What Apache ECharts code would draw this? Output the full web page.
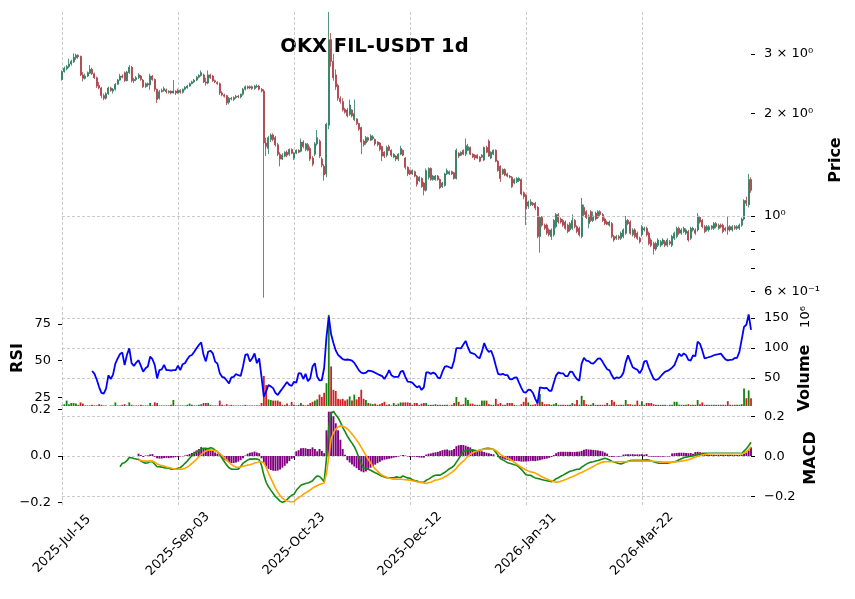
<!DOCTYPE html>
<html>
<head>
<meta charset="utf-8">
<title>OKX FIL-USDT 1d</title>
<script src="https://cdn.jsdelivr.net/npm/echarts@6.0.0/dist/echarts.min.js"></script>
<style>
  html, body { margin: 0; padding: 0; background: #ffffff; }
  #chart { width: 855px; height: 599px; }
</style>
</head>
<body>
<div id="chart"></div>
<script>
// daily candles (USDT)
const firstDay = [2025, 6, 15]; // 2025-Jul-15, one candle per day

const open = [
  2.52,2.66,2.71,2.75,2.80,2.84,2.92,2.97,2.95,2.60,
  2.54,2.58,2.63,2.70,2.62,2.55,2.42,2.38,2.26,2.22,
  2.29,2.38,2.33,2.36,2.44,2.51,2.58,2.64,2.50,2.64,
  2.74,2.50,2.52,2.55,2.58,2.51,2.40,2.45,2.43,2.58,
  2.52,2.36,2.22,2.32,2.34,2.35,2.31,2.33,2.30,2.33,
  2.30,2.34,2.31,2.36,2.38,2.41,2.45,2.48,2.51,2.56,
  2.59,2.60,2.48,2.46,2.60,2.58,2.50,2.47,2.45,2.30,
  2.27,2.26,2.16,2.22,2.20,2.23,2.25,2.24,2.28,2.36,
  2.40,2.38,2.40,2.37,2.40,2.41,2.36,2.33,1.64,1.58,
  1.68,1.73,1.70,1.62,1.52,1.47,1.50,1.54,1.52,1.57,
  1.48,1.53,1.56,1.55,1.65,1.57,1.62,1.58,1.48,1.52,
  1.63,1.66,1.47,1.40,1.33,1.85,3.30,2.85,2.60,2.42,
  2.22,2.17,2.06,2.05,1.99,2.05,1.92,1.93,1.87,1.82,
  1.66,1.64,1.70,1.67,1.69,1.68,1.65,1.64,1.60,1.54,
  1.51,1.60,1.56,1.49,1.50,1.47,1.52,1.56,1.48,1.39,
  1.36,1.33,1.35,1.31,1.27,1.29,1.25,1.19,1.30,1.38,
  1.28,1.28,1.31,1.28,1.22,1.23,1.33,1.33,1.35,1.34,
  1.29,1.53,1.51,1.56,1.52,1.56,1.59,1.52,1.51,1.51,
  1.49,1.49,1.46,1.59,1.66,1.48,1.52,1.56,1.45,1.40,
  1.33,1.37,1.33,1.31,1.30,1.25,1.26,1.27,1.28,1.17,
  1.15,1.07,1.08,1.09,1.09,1.06,0.87,0.99,0.94,0.94,
  0.91,0.87,0.88,0.93,1.01,0.98,0.97,0.96,0.94,0.91,
  0.92,0.97,0.93,0.92,0.87,1.06,1.03,0.95,1.03,0.97,
  1.02,0.99,1.03,1.01,0.98,0.96,0.94,0.95,0.87,0.86,
  0.87,0.86,0.87,0.89,0.97,0.96,0.88,0.91,0.89,0.86,
  0.88,0.91,0.92,0.89,0.85,0.83,0.80,0.82,0.82,0.83,
  0.84,0.82,0.84,0.82,0.86,0.87,0.92,0.89,0.90,0.89,
  0.90,0.86,0.91,0.91,0.91,0.99,0.97,0.93,0.91,0.91,
  0.92,0.92,0.95,0.92,0.94,0.94,0.92,0.93,0.91,0.91,
  0.93,0.92,0.92,0.94,0.98,1.11,1.08,1.28
];
const close = [
  2.66,2.72,2.75,2.80,2.85,2.93,2.97,2.94,2.60,2.54,
  2.58,2.64,2.70,2.62,2.55,2.41,2.38,2.26,2.22,2.29,
  2.38,2.34,2.36,2.44,2.51,2.58,2.56,2.50,2.65,2.74,
  2.50,2.52,2.55,2.60,2.52,2.40,2.45,2.43,2.58,2.52,
  2.36,2.20,2.32,2.34,2.37,2.32,2.33,2.30,2.33,2.30,
  2.34,2.31,2.36,2.39,2.41,2.45,2.48,2.51,2.56,2.59,
  2.64,2.48,2.46,2.60,2.55,2.50,2.48,2.45,2.30,2.27,
  2.25,2.15,2.22,2.21,2.23,2.25,2.24,2.28,2.36,2.40,
  2.38,2.40,2.37,2.41,2.41,2.36,2.33,1.64,1.60,1.70,
  1.73,1.68,1.62,1.52,1.47,1.51,1.54,1.51,1.57,1.53,
  1.53,1.56,1.54,1.65,1.60,1.63,1.56,1.47,1.42,1.63,
  1.70,1.50,1.41,1.32,1.86,3.30,2.85,2.55,2.40,2.22,
  2.17,2.05,2.02,1.97,2.12,1.97,2.00,1.87,1.80,1.65,
  1.62,1.70,1.67,1.72,1.71,1.63,1.62,1.57,1.50,1.50,
  1.59,1.56,1.51,1.52,1.47,1.52,1.58,1.51,1.39,1.33,
  1.33,1.36,1.31,1.24,1.30,1.22,1.19,1.36,1.38,1.28,
  1.31,1.31,1.28,1.21,1.25,1.33,1.36,1.35,1.33,1.29,
  1.56,1.50,1.54,1.52,1.61,1.60,1.52,1.49,1.48,1.48,
  1.45,1.51,1.59,1.54,1.50,1.54,1.56,1.45,1.36,1.29,
  1.37,1.32,1.31,1.30,1.22,1.28,1.29,1.29,1.16,1.14,
  1.05,1.10,1.10,1.08,1.055,0.87,0.99,0.94,0.92,0.89,
  0.88,0.91,0.97,1.01,0.96,0.96,0.94,0.92,0.90,0.95,
  0.97,0.93,0.90,0.88,1.08,1.01,0.99,1.00,0.97,1.00,
  0.98,1.03,1.01,0.97,0.95,0.945,0.96,0.87,0.85,0.87,
  0.86,0.89,0.91,0.97,0.95,0.89,0.91,0.87,0.86,0.84,
  0.93,0.92,0.88,0.83,0.82,0.80,0.83,0.85,0.84,0.85,
  0.82,0.85,0.83,0.87,0.89,0.92,0.89,0.91,0.92,0.91,
  0.85,0.92,0.92,0.89,1.00,0.96,0.93,0.90,0.93,0.93,
  0.935,0.95,0.93,0.94,0.93,0.90,0.91,0.91,0.93,0.93,
  0.92,0.93,0.94,0.98,1.11,1.09,1.28,1.19
];
const low = [
  2.50,2.64,2.68,2.72,2.77,2.82,2.88,2.90,2.58,2.49,
  2.52,2.56,2.62,2.60,2.53,2.38,2.36,2.22,2.19,2.20,
  2.27,2.32,2.29,2.34,2.43,2.50,2.54,2.48,2.49,2.62,
  2.47,2.46,2.49,2.53,2.50,2.38,2.38,2.40,2.35,2.50,
  2.32,2.15,2.20,2.31,2.32,2.29,2.29,2.28,2.29,2.27,
  2.29,2.29,2.29,2.34,2.37,2.40,2.44,2.46,2.49,2.54,
  2.57,2.46,2.42,2.44,2.53,2.48,2.46,2.43,2.27,2.25,
  2.23,2.12,2.13,2.19,2.18,2.21,2.22,2.22,2.26,2.34,
  2.36,2.36,2.35,2.35,2.38,2.34,2.31,0.575,1.50,1.52,
  1.65,1.66,1.60,1.50,1.40,1.46,1.49,1.49,1.50,1.52,
  1.46,1.52,1.53,1.54,1.58,1.55,1.55,1.45,1.40,1.50,
  1.61,1.48,1.39,1.27,1.30,1.80,2.75,2.50,2.35,2.18,
  2.14,2.03,2.00,1.95,1.97,1.95,1.90,1.85,1.78,1.52,
  1.60,1.62,1.65,1.66,1.67,1.61,1.60,1.55,1.45,1.48,
  1.49,1.55,1.49,1.48,1.45,1.45,1.51,1.50,1.37,1.31,
  1.32,1.32,1.30,1.22,1.26,1.21,1.15,1.18,1.28,1.27,
  1.27,1.27,1.27,1.20,1.21,1.22,1.32,1.32,1.32,1.28,
  1.28,1.48,1.50,1.51,1.50,1.55,1.51,1.48,1.46,1.47,
  1.44,1.48,1.45,1.53,1.49,1.47,1.51,1.44,1.35,1.26,
  1.32,1.31,1.30,1.29,1.21,1.24,1.25,1.26,1.15,1.12,
  0.94,1.05,1.07,1.07,1.04,0.86,0.78,0.93,0.91,0.88,
  0.87,0.85,0.87,0.92,0.95,0.95,0.93,0.91,0.89,0.90,
  0.91,0.92,0.89,0.87,0.86,1.00,0.98,0.92,0.96,0.96,
  0.97,0.98,1.00,0.96,0.94,0.94,0.93,0.86,0.84,0.85,
  0.85,0.85,0.86,0.88,0.94,0.88,0.87,0.86,0.85,0.83,
  0.87,0.90,0.87,0.82,0.81,0.77,0.79,0.81,0.81,0.82,
  0.81,0.81,0.82,0.81,0.85,0.86,0.88,0.88,0.89,0.88,
  0.84,0.85,0.90,0.88,0.90,0.95,0.92,0.89,0.90,0.90,
  0.91,0.91,0.92,0.91,0.92,0.89,0.90,0.88,0.90,0.90,
  0.91,0.91,0.91,0.93,0.97,1.07,1.06,1.17
];
const high = [
  2.68,2.75,2.78,2.90,2.88,3.01,3.00,2.99,2.96,2.65,
  2.62,2.66,2.78,2.73,2.64,2.57,2.48,2.40,2.29,2.31,
  2.40,2.40,2.38,2.46,2.53,2.62,2.61,2.66,2.67,2.78,
  2.76,2.55,2.58,2.63,2.60,2.53,2.47,2.47,2.62,2.60,
  2.54,2.37,2.35,2.37,2.40,2.37,2.34,2.34,2.51,2.34,
  2.37,2.36,2.37,2.41,2.43,2.47,2.50,2.53,2.58,2.61,
  2.68,2.62,2.55,2.68,2.62,2.60,2.52,2.49,2.47,2.33,
  2.29,2.27,2.24,2.24,2.25,2.27,2.27,2.29,2.38,2.42,
  2.42,2.42,2.42,2.43,2.44,2.43,2.38,2.36,1.70,1.72,
  1.75,1.75,1.72,1.64,1.54,1.53,1.55,1.56,1.58,1.58,
  1.54,1.57,1.57,1.69,1.67,1.64,1.64,1.60,1.50,1.65,
  1.79,1.68,1.49,1.42,1.88,3.98,3.45,3.00,2.70,2.45,
  2.25,2.22,2.08,2.08,2.20,2.06,2.20,1.94,1.88,1.83,
  1.68,1.72,1.71,1.74,1.73,1.69,1.66,1.65,1.61,1.55,
  1.61,1.62,1.57,1.53,1.51,1.53,1.61,1.57,1.49,1.40,
  1.37,1.37,1.36,1.32,1.31,1.30,1.26,1.38,1.39,1.39,
  1.32,1.32,1.32,1.29,1.26,1.34,1.38,1.36,1.36,1.35,
  1.58,1.54,1.55,1.57,1.69,1.63,1.60,1.53,1.52,1.52,
  1.50,1.52,1.60,1.61,1.68,1.55,1.57,1.57,1.46,1.41,
  1.38,1.38,1.34,1.32,1.31,1.29,1.30,1.30,1.29,1.18,
  1.16,1.11,1.12,1.10,1.10,1.07,1.00,1.00,0.95,0.95,
  0.92,0.92,0.98,1.02,1.02,0.99,0.98,0.97,0.95,0.96,
  1.01,0.98,0.94,0.93,1.13,1.08,1.04,1.01,1.04,1.03,
  1.03,1.04,1.04,1.02,0.99,0.97,0.97,0.96,0.88,0.88,
  0.88,0.90,0.92,1.00,0.98,0.97,0.92,0.92,0.90,0.87,
  0.94,0.93,0.93,0.90,0.86,0.84,0.84,0.86,0.85,0.86,
  0.85,0.86,0.85,0.88,0.90,0.93,0.93,0.92,0.93,0.92,
  0.91,0.93,0.93,0.92,1.02,1.00,0.98,0.94,0.94,0.94,
  0.94,0.96,0.96,0.95,0.95,0.95,0.93,1.00,0.94,0.94,
  0.94,0.94,0.95,0.99,1.12,1.14,1.33,1.30
];
// volume in millions (axis shows 10^6)
const volume = [
  4,6,12,6,8,8,7,5,9,7,
  4,4,4,5,4,4,6,5,4,4,
  3,4,4,9,4,4,5,6,4,9,
  5,4,4,4,5,4,4,4,8,4,
  9,8,4,4,4,4,4,5,13,4,
  4,4,4,4,5,7,5,4,4,5,
  6,8,8,8,5,4,4,4,12,5,
  4,6,4,5,4,4,4,4,4,5,
  4,4,4,4,4,4,8,53,38,14,
  13,12,12,12,10,5,5,7,4,10,
  5,4,5,8,5,4,5,8,10,12,
  14,22,18,25,41,155,69,30,28,15,
  14,15,12,14,19,12,22,14,18,30,
  15,13,8,7,6,7,5,6,8,10,
  5,6,4,8,5,7,9,9,9,9,
  8,5,8,8,5,7,8,8,5,5,
  5,6,5,5,5,5,5,4,5,8,
  18,10,5,6,17,13,7,7,5,5,
  5,12,12,12,6,5,5,15,6,8,
  5,5,8,8,8,5,4,4,6,10,
  17,9,5,5,6,13,23,10,6,6,
  6,5,6,8,5,5,5,5,5,5,
  8,6,13,5,20,13,6,5,5,8,
  5,5,5,5,5,8,5,13,10,5,
  5,5,5,13,6,6,5,5,12,5,
  11,5,8,8,8,6,5,5,5,5,
  5,4,5,5,10,10,5,5,5,5,
  6,5,5,5,13,6,9,5,5,5,
  5,5,5,5,5,5,5,11,5,5,
  5,5,5,6,32,16,29,16
];

// RSI, first value on day 13
const rsiStart = 13;
const rsi = [
  43,41,37,32,28,27.5,31,
  40,37.5,40.5,48,51.5,54.5,55.5,47,54,58.4,
  48.3,46.4,48.7,50.3,46.4,42.5,44.8,46,52.7,51,
  47,37.9,43.6,44.1,47.1,43.6,43.6,43.2,43.6,43.6,
  46.6,43.6,47.6,48.3,51,53.2,53.9,56.1,58.4,60.7,
  62.5,54,49.5,56.1,56.8,55,49.4,48,41.5,39,
  38.4,36.5,34.5,38.6,39,40.9,40.1,39.6,45.9,53.9,
  54.4,49.4,51.6,55,48.3,51.5,39,25.5,29,33.4,
  32.5,31.3,28,26.6,28.9,31,33.2,35.5,33.5,32.8,
  35.6,35,41.5,41.4,37.5,41,36,37.9,46,48.3,
  39,36.5,36.8,45,66,80,68,62,57,54,
  52.5,51,50.5,50.8,50.5,50,48.5,46,43.4,41.8,
  41.4,41.8,43.2,43,42.5,41.8,40.9,40.2,39.5,37.5,
  40.2,43.5,40,39,39,39,42.5,43,39,35.7,
  35.5,35,33.3,31.8,32.7,30,32,42,42,41,
  42,41,38.5,38,42.5,46,46.2,45.5,44.8,50,
  58.6,58.5,58.4,61,63.5,59,55.5,55,54.4,52.5,
  51.6,56,62,58,56,56.8,52.5,46.5,41,40.5,
  41,40.2,40.2,37.5,37.3,38.4,38.6,35,31.5,28.6,
  28.3,30.2,30,28,24,21,31.8,31.5,31.2,31.4,
  29.5,29.5,35,40,42,41.3,41.4,39.5,39.5,42.5,
  42.3,39.6,37.4,36.4,48,52,50,49.7,48.4,48,
  49.6,51.4,51.5,49.4,46.5,44.2,43.4,40,37.5,38.6,
  38.2,39,41.8,49,53.6,49.5,45.5,44.6,43.8,41.4,
  44,49.5,49.8,45,41.3,37.7,36.8,37.5,39.2,41,
  42.5,43,44,45.3,47,51,54.8,53,55,53.8,
  50.5,50,53.6,53,63,61.5,57,51.5,52,52.5,
  53,53.7,54.2,54.4,54.8,52.8,50.9,50.2,50.6,50.7,
  51.8,52,56,64.5,73,74.5,81.5,71
];

// MACD line, first value on day 25
const macdStart = 25;
const macd = [
  -0.05,-0.033,-0.03,-0.02,-0.004,
  -0.005,-0.009,-0.012,-0.013,-0.022,-0.028,-0.033,-0.03,-0.024,-0.025,
  -0.038,-0.05,-0.05,-0.052,-0.055,-0.056,-0.058,-0.062,-0.063,-0.063,
  -0.058,-0.055,-0.045,-0.033,-0.022,-0.008,0.005,0.016,0.025,0.03,
  0.037,0.042,0.042,0.04,0.045,0.042,0.033,0.025,0.012,-0.008,
  -0.025,-0.042,-0.055,-0.062,-0.063,-0.063,-0.062,-0.05,-0.033,-0.025,
  -0.017,-0.012,-0.012,-0.01,-0.012,-0.015,-0.042,-0.092,-0.128,-0.15,
  -0.167,-0.183,-0.2,-0.21,-0.222,-0.228,-0.224,-0.214,-0.202,-0.193,
  -0.188,-0.168,-0.155,-0.143,-0.138,-0.134,-0.131,-0.127,-0.12,-0.106,
  -0.096,-0.099,-0.11,-0.125,-0.01,0.15,0.215,0.227,0.21,0.195,
  0.173,0.147,0.125,0.103,0.085,0.068,0.05,0.025,-0.005,-0.033,
  -0.058,-0.058,-0.063,-0.068,-0.074,-0.08,-0.085,-0.092,-0.098,-0.102,
  -0.105,-0.105,-0.105,-0.105,-0.101,-0.103,-0.104,-0.096,-0.102,-0.106,
  -0.108,-0.115,-0.119,-0.122,-0.127,-0.128,-0.127,-0.118,-0.112,-0.105,
  -0.097,-0.093,-0.092,-0.092,-0.085,-0.078,-0.07,-0.06,-0.054,-0.045,
  -0.027,-0.01,0.008,0.025,0.031,0.033,0.033,0.033,0.03,0.029,
  0.032,0.036,0.039,0.042,0.042,0.04,0.036,0.022,0.006,-0.01,
  -0.016,-0.022,-0.03,-0.033,-0.036,-0.04,-0.043,-0.052,-0.063,-0.077,
  -0.09,-0.092,-0.093,-0.1,-0.106,-0.109,-0.112,-0.115,-0.118,-0.12,
  -0.122,-0.125,-0.12,-0.11,-0.105,-0.098,-0.092,-0.085,-0.079,-0.073,
  -0.07,-0.066,-0.063,-0.063,-0.052,-0.045,-0.037,-0.031,-0.027,-0.025,
  -0.022,-0.019,-0.015,-0.011,-0.008,-0.011,-0.016,-0.023,-0.027,-0.03,
  -0.034,-0.036,-0.032,-0.027,-0.023,-0.019,-0.018,-0.018,-0.018,-0.018,
  -0.018,-0.017,-0.016,-0.017,-0.021,-0.025,-0.029,-0.032,-0.033,-0.033,
  -0.033,-0.032,-0.03,-0.028,-0.025,-0.021,-0.015,-0.01,-0.005,-0.002,
  0,0.002,0.004,0.008,0.012,0.015,0.017,0.017,0.017,0.017,
  0.017,0.017,0.017,0.017,0.017,0.017,0.017,0.017,0.017,0.017,
  0.017,0.017,0.017,0.016,0.028,0.04,0.055,0.072
];

// signal line and histogram, first value on day 33
const signalStart = 33;
const signal = [
  -0.017,-0.019,-0.022,-0.022,-0.022,-0.021,-0.022,
  -0.028,-0.036,-0.041,-0.044,-0.047,-0.051,-0.054,-0.057,-0.061,-0.063,
  -0.063,-0.063,-0.062,-0.058,-0.052,-0.043,-0.034,-0.023,-0.013,-0.001,
  0.011,0.021,0.028,0.032,0.033,0.033,0.03,0.025,0.017,0.005,
  -0.005,-0.017,-0.028,-0.038,-0.047,-0.052,-0.053,-0.052,-0.048,-0.045,
  -0.042,-0.04,-0.036,-0.032,-0.029,-0.025,-0.025,-0.032,-0.054,-0.082,
  -0.107,-0.132,-0.157,-0.177,-0.194,-0.207,-0.216,-0.221,-0.224,-0.225,
  -0.225,-0.213,-0.205,-0.197,-0.188,-0.181,-0.174,-0.166,-0.157,-0.15,
  -0.144,-0.139,-0.135,-0.131,-0.085,0.0,0.088,0.12,0.138,0.149,
  0.154,0.152,0.147,0.14,0.127,0.113,0.099,0.083,0.067,0.047,
  0.027,0.007,-0.013,-0.03,-0.048,-0.061,-0.072,-0.083,-0.093,-0.098,
  -0.103,-0.107,-0.11,-0.112,-0.112,-0.113,-0.113,-0.114,-0.115,-0.116,
  -0.117,-0.12,-0.122,-0.125,-0.127,-0.129,-0.132,-0.134,-0.13,-0.128,
  -0.122,-0.117,-0.115,-0.112,-0.108,-0.1,-0.094,-0.086,-0.078,-0.069,
  -0.058,-0.043,-0.032,-0.022,-0.01,0.003,0.012,0.02,0.025,0.028,
  0.033,0.035,0.037,0.038,0.038,0.038,0.037,0.031,0.022,0.012,
  0.004,-0.002,-0.008,-0.013,-0.02,-0.028,-0.037,-0.045,-0.053,-0.06,
  -0.067,-0.072,-0.076,-0.078,-0.082,-0.088,-0.094,-0.101,-0.106,-0.111,
  -0.116,-0.12,-0.125,-0.127,-0.127,-0.123,-0.119,-0.114,-0.11,-0.104,
  -0.1,-0.095,-0.089,-0.083,-0.079,-0.073,-0.067,-0.061,-0.055,-0.049,
  -0.042,-0.036,-0.031,-0.027,-0.025,-0.025,-0.025,-0.025,-0.025,-0.025,
  -0.025,-0.025,-0.025,-0.025,-0.024,-0.023,-0.022,-0.022,-0.022,-0.022,
  -0.022,-0.022,-0.022,-0.022,-0.022,-0.023,-0.024,-0.025,-0.026,-0.027,
  -0.027,-0.027,-0.027,-0.027,-0.026,-0.025,-0.024,-0.022,-0.02,-0.018,
  -0.015,-0.011,-0.007,-0.003,0.002,0.005,0.008,0.011,0.013,0.014,
  0.015,0.015,0.015,0.015,0.015,0.015,0.015,0.015,0.015,0.015,
  0.015,0.015,0.015,0.014,0.018,0.025,0.035,0.05
];
const hist = [
  0.01,0.004,-0.004,0.002,0.003,0.007,0.008,
  -0.003,-0.01,-0.011,-0.011,-0.009,-0.008,-0.009,-0.008,-0.007,-0.005,
  -0.003,-0.002,-0.001,0.002,0.005,0.009,0.013,0.018,0.024,0.03,
  0.038,0.034,0.03,0.032,0.028,0.022,0.015,0.01,0.002,-0.008,
  -0.016,-0.022,-0.027,-0.03,-0.03,-0.028,-0.024,-0.018,-0.01,0.002,
  0.01,0.014,0.016,0.019,0.015,0.012,-0.01,-0.028,-0.045,-0.055,
  -0.06,-0.063,-0.064,-0.062,-0.058,-0.05,-0.042,-0.032,-0.022,-0.012,
  -0.008,0.02,0.025,0.033,0.034,0.033,0.03,0.03,0.037,0.03,
  0.02,0.03,0.022,0.012,0.11,0.19,0.19,0.17,0.14,0.11,
  0.07,0.03,0.005,-0.018,-0.028,-0.036,-0.045,-0.052,-0.06,-0.066,
  -0.07,-0.066,-0.06,-0.05,-0.043,-0.037,-0.031,-0.025,-0.019,-0.016,
  -0.014,-0.012,-0.01,-0.007,-0.005,-0.002,0.002,0.004,0.002,-0.002,
  -0.004,-0.003,-0.003,-0.004,-0.006,-0.007,-0.007,0.006,0.01,0.011,
  0.014,0.016,0.018,0.021,0.025,0.027,0.028,0.024,0.025,0.03,
  0.042,0.046,0.047,0.047,0.044,0.04,0.037,0.03,0.027,0.025,
  0.021,0.02,0.017,0.014,0.012,0.009,0.007,0.0,-0.005,-0.008,
  -0.012,-0.015,-0.017,-0.02,-0.021,-0.021,-0.021,-0.023,-0.024,-0.024,
  -0.024,-0.023,-0.021,-0.021,-0.022,-0.02,-0.018,-0.015,-0.013,-0.011,
  -0.008,-0.004,0.004,0.012,0.017,0.018,0.018,0.018,0.018,0.018,
  0.017,0.017,0.018,0.019,0.022,0.027,0.029,0.028,0.027,0.026,
  0.025,0.024,0.022,0.02,0.015,0.01,-0.003,-0.004,-0.003,-0.002,
  -0.003,-0.002,0.006,0.007,0.007,0.007,0.008,0.006,0.007,0.007,
  0.008,0.006,0.008,-0.002,-0.003,-0.003,-0.003,-0.003,-0.003,-0.003,
  -0.002,-0.002,-0.002,0.011,0.012,0.013,0.014,0.014,0.014,0.013,
  0.012,0.013,0.01,0.017,0.018,0.016,0.008,0.006,0.005,0.005,
  0.005,0.005,0.004,0.005,0.005,0.005,0.005,0.005,0.005,0.005,
  0.004,0.004,0.004,0.005,0.01,0.015,0.024,0.038
];

// axis ticks
const priceTicks = [0.6, 1, 2, 3];
const priceTickText = ['6 × 10⁻¹', '10⁰', '2 × 10⁰', '3 × 10⁰'];
const priceMinorTicks = [0.6, 0.7, 0.8, 0.9, 1, 2, 3];
const rsiTicks = [25, 50, 75];
const volTicks = [50, 100, 150];
const macdTicks = [-0.2, 0, 0.2];

const UP = '#26795a', DOWN = '#aa3a43';
const VOL_UP = '#128312', VOL_DOWN = '#d41f24';
const GRID_COLOR = '#bdbdbd';
const FONT = 'DejaVu Sans';

const MONTHS = ['Jan','Feb','Mar','Apr','May','Jun','Jul','Aug','Sep','Oct','Nov','Dec'];
const dates = [];
const t0 = Date.UTC(firstDay[0], firstDay[1], firstDay[2]);
for (let i = 0; i < close.length; i++) {
  const d = new Date(t0 + i * 86400000);
  dates.push(d.getUTCFullYear() + '-' + MONTHS[d.getUTCMonth()] + '-' + String(d.getUTCDate()).padStart(2, '0'));
}

const lead = (n, arr) => new Array(n).fill(null).concat(arr);
const candles = open.map((o, i) => [o, close[i], low[i], high[i]]);
const volData = volume.map((v, i) => ({
  value: v,
  itemStyle: { color: close[i] >= open[i] ? VOL_UP : VOL_DOWN }
}));

const fmtPrice = v => {
  let best = 0;
  priceTicks.forEach((t, i) => { if (Math.abs(t - v) < Math.abs(priceTicks[best] - v)) best = i; });
  return priceTickText[best];
};
const fmtMacd = v => (v < -1e-9 ? '−' : '') + Math.abs(v).toFixed(1);

const dashed = { color: GRID_COLOR, type: [3, 2], width: 0.8 };
const tickStyle = { color: '#000', width: 1 };
const labelBase = { fontSize: 13, color: '#000', fontFamily: FONT };

// date labels sit centred under their tick, like matplotlib's rotated ticklabels
const xAxisFor = (gridIndex, bottom) => ({
  type: 'category', gridIndex, data: dates, boundaryGap: false,
  axisLine: { show: false },
  axisTick: { show: bottom, interval: 49, length: 4, lineStyle: tickStyle },
  axisLabel: Object.assign({
    show: bottom, interval: 49, rotate: 45, margin: 39,
    align: 'center', verticalAlign: 'middle'
  }, labelBase),
  splitLine: { show: true, interval: 49, lineStyle: dashed }
});

const chart = echarts.init(document.getElementById('chart'));
chart.setOption({
  animation: false,
  backgroundColor: '#ffffff',
  textStyle: { fontFamily: FONT },
  grid: [
    { left: 62, right: 104, top: 12, height: 289 },
    { left: 62, right: 104, top: 307, height: 99 },
    { left: 62, right: 104, top: 407, height: 98 }
  ],
  xAxis: [xAxisFor(0, false), xAxisFor(1, false), xAxisFor(2, true)],
  yAxis: [
    {
      gridIndex: 0, type: 'log', logBase: 10, position: 'right', min: 0.5623, max: 3.981,
      axisLine: { show: false },
      axisTick: { show: true, customValues: priceMinorTicks, length: 4, lineStyle: tickStyle },
      axisLabel: Object.assign({ customValues: priceTicks, formatter: fmtPrice, margin: 13 }, labelBase),
      splitLine: { show: false }
    },
    {
      gridIndex: 1, type: 'value', position: 'left', min: 19.1, max: 86.6,
      axisLine: { show: false },
      axisTick: { show: true, customValues: rsiTicks, length: 4, lineStyle: tickStyle },
      axisLabel: Object.assign({ customValues: rsiTicks, margin: 11 }, labelBase),
      splitLine: { show: false }
    },
    {
      gridIndex: 1, type: 'value', position: 'right', min: 3, max: 168,
      axisLine: { show: false },
      axisTick: { show: true, customValues: volTicks, length: 4, lineStyle: tickStyle },
      axisLabel: Object.assign({ customValues: volTicks, margin: 13 }, labelBase),
      splitLine: { show: true, lineStyle: dashed }
    },
    {
      gridIndex: 2, type: 'value', position: 'left', min: -0.2099, max: 0.2099,
      axisLine: { show: false },
      axisTick: { show: true, customValues: macdTicks, length: 4, lineStyle: tickStyle },
      axisLabel: Object.assign({ customValues: macdTicks, formatter: fmtMacd, margin: 11 }, labelBase),
      splitLine: { show: false }
    },
    {
      gridIndex: 2, type: 'value', position: 'right', min: -0.2415, max: 0.2485,
      axisLine: { show: false },
      axisTick: { show: true, customValues: macdTicks, length: 4, lineStyle: tickStyle },
      axisLabel: Object.assign({ customValues: macdTicks, formatter: fmtMacd, margin: 13 }, labelBase),
      splitLine: { show: true, lineStyle: dashed }
    }
  ],
  series: [
    {
      name: 'Price', type: 'candlestick', xAxisIndex: 0, yAxisIndex: 0, data: candles,
      barWidth: 1.5,
      itemStyle: { color: UP, color0: DOWN, borderColor: UP, borderColor0: DOWN, borderWidth: 0.8 },
      markLine: {
        silent: true, symbol: 'none', label: { show: false }, lineStyle: dashed,
        data: [{ yAxis: 1 }]
      }
    },
    {
      name: 'Volume', type: 'bar', xAxisIndex: 1, yAxisIndex: 2, data: volData, barWidth: 1.8
    },
    {
      name: 'RSI', type: 'line', xAxisIndex: 1, yAxisIndex: 1, data: lead(rsiStart, rsi),
      showSymbol: false, lineStyle: { color: '#0000ff', width: 1.8 }, itemStyle: { color: '#0000ff' }, z: 4
    },
    {
      name: 'Histogram', type: 'bar', xAxisIndex: 2, yAxisIndex: 3, data: lead(signalStart, hist),
      barWidth: 1.9, itemStyle: { color: '#800080' }
    },
    {
      name: 'MACD', type: 'line', xAxisIndex: 2, yAxisIndex: 4, data: lead(macdStart, macd),
      showSymbol: false, lineStyle: { color: '#138a13', width: 1.6 }, itemStyle: { color: '#138a13' }, z: 4
    },
    {
      name: 'Signal', type: 'line', xAxisIndex: 2, yAxisIndex: 4, data: lead(signalStart, signal),
      showSymbol: false, lineStyle: { color: '#ffa500', width: 1.6 }, itemStyle: { color: '#ffa500' }, z: 4
    }
  ],
  graphic: [
    { type: 'text', x: 374.5, y: 47, style: { text: 'OKX FIL-USDT 1d', font: 'bold 19.5px "DejaVu Sans"', fill: '#000', align: 'center', verticalAlign: 'middle', textAlign: 'center', textVerticalAlign: 'middle' } },
    { type: 'text', x: 836, y: 160, rotation: Math.PI / 2, style: { text: 'Price', font: 'bold 16px "DejaVu Sans"', fill: '#000', align: 'center', verticalAlign: 'middle', textAlign: 'center', textVerticalAlign: 'middle' } },
    { type: 'text', x: 18, y: 358, rotation: Math.PI / 2, style: { text: 'RSI', font: 'bold 16px "DejaVu Sans"', fill: '#000', align: 'center', verticalAlign: 'middle', textAlign: 'center', textVerticalAlign: 'middle' } },
    { type: 'text', x: 805, y: 378, rotation: Math.PI / 2, style: { text: 'Volume', font: 'bold 16px "DejaVu Sans"', fill: '#000', align: 'center', verticalAlign: 'middle', textAlign: 'center', textVerticalAlign: 'middle' } },
    { type: 'text', x: 806, y: 317, rotation: Math.PI / 2, style: { text: '10⁶', font: '13px "DejaVu Sans"', fill: '#000', align: 'center', verticalAlign: 'middle', textAlign: 'center', textVerticalAlign: 'middle' } },
    { type: 'text', x: 811, y: 458, rotation: Math.PI / 2, style: { text: 'MACD', font: 'bold 16px "DejaVu Sans"', fill: '#000', align: 'center', verticalAlign: 'middle', textAlign: 'center', textVerticalAlign: 'middle' } }
  ]
});
</script>
</body>
</html>
